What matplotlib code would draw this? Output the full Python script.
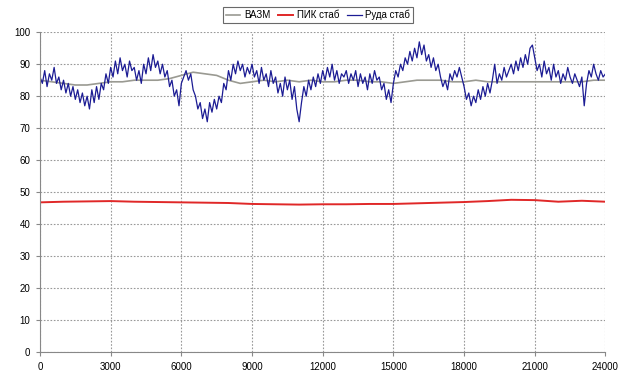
import numpy as np
import matplotlib
matplotlib.use("Agg")
import matplotlib.pyplot as plt

plt.rcParams['font.family'] = ['Liberation Sans', 'DejaVu Sans']

# Руда стаб (blue), one value every 100 units
ruda = [
    86, 84, 88, 83, 87, 85, 89, 84, 86, 82,
    85, 81, 84, 80, 83, 79, 82, 78, 81, 77,
    80, 76, 82, 78, 83, 79, 84, 82, 87, 84,
    89, 86, 91, 87, 92, 88, 90, 86, 91, 88,
    89, 85, 88, 84, 90, 87, 92, 88, 93, 89,
    91, 87, 90, 86, 88, 83, 85, 80, 82, 77,
    84, 86, 88, 85, 87, 82, 80, 76, 78, 73,
    76, 72, 78, 75, 79, 76, 80, 78, 84, 82,
    88, 85, 90, 87, 91, 88, 90, 86, 89, 87,
    90, 86, 88, 84, 89, 85, 87, 83, 88, 84,
    86, 81, 84, 80, 86, 82, 85, 79, 83, 76,
    72, 78, 83, 80, 85, 82, 86, 83, 87, 84,
    88, 85, 89, 86, 90, 85, 88, 84, 87, 86,
    88, 84, 87, 85, 88, 83, 87, 84, 86, 82,
    87, 84, 88, 85, 86, 82, 84, 79, 82, 78,
    84, 88, 86, 90, 88, 92, 90, 94, 91, 95,
    92, 97, 93, 96, 91, 93, 89, 92, 88, 90,
    86, 83, 85, 82, 87, 85, 88, 86, 89, 86,
    83, 79, 81, 77, 80, 78, 82, 79, 83, 80,
    84, 81, 85, 90, 84, 87, 85, 89, 86, 88,
    90, 87, 91, 88, 92, 89, 93, 90, 95, 96,
    92, 88, 90, 86, 91, 87, 89, 85, 90, 86,
    88, 84, 87, 85, 89, 86, 84, 87, 85, 83,
    86, 77, 84, 88, 86, 90, 87, 85, 88, 86,
    87,
]
ruda_x = np.arange(len(ruda)) * 100

# ВАЗМ (gray), one value every 500 units
vazm = [
    85, 84.5, 84, 83.5, 83.5, 84, 84.5, 84.5, 85, 85,
    85, 85.5, 86.5, 87.5, 87, 86.5, 85, 84, 84.5, 85,
    84.5, 85, 84.5, 85, 84.5, 84.5, 85, 85, 84.5, 84.5,
    84, 84.5, 85, 85, 85, 84.5, 84.5, 85, 84.5, 84.5,
    84.5, 84.5, 84.5, 84.5, 84.5, 84.5, 84.5, 85, 85,
]
vazm_x = np.arange(len(vazm)) * 500

# ПИК стаб (red), one value every 1000 units
pik = [
    46.8, 47.0, 47.1, 47.2, 47.0, 46.9, 46.8, 46.7, 46.6, 46.3,
    46.2, 46.1, 46.2, 46.2, 46.3, 46.3, 46.5, 46.7, 46.9, 47.2,
    47.6, 47.5, 47.0, 47.3, 47.0,
]
pik_x = np.arange(len(pik)) * 1000

x_ticks = [0, 3000, 6000, 9000, 12000, 15000, 18000, 21000, 24000]
y_ticks = [0, 10, 20, 30, 40, 50, 60, 70, 80, 90, 100]

fig = plt.figure(figsize=(6.2, 3.74), dpi=100)
ax = fig.add_axes([0.0645, 0.0588, 0.912, 0.855])

l1, = ax.plot(vazm_x, vazm, color='#9a9a92', lw=1.2, label='ВАЗМ')
l2, = ax.plot(pik_x, pik, color='#e02828', lw=1.4, label='ПИК стаб')
l3, = ax.plot(ruda_x, ruda, color='#1c1c94', lw=0.9, label='Руда стаб')

ax.set_xlim(0, 24000)
ax.set_ylim(0, 100)
ax.set_xticks(x_ticks)
ax.set_xticklabels([str(t) for t in x_ticks])
ax.set_yticks(y_ticks)
ax.tick_params(labelsize=7, length=3, color='#888888', pad=4)
ax.grid(True, linestyle=(0, (1.5, 1.5)), color='#999999', lw=0.8)
for s in ['top', 'right']:
    ax.spines[s].set_visible(False)
for s in ['left', 'bottom']:
    ax.spines[s].set_color('#888888')

leg = fig.legend(handles=[l1, l2, l3], loc='center', bbox_to_anchor=(0.513, 0.96),
                 ncol=3, fontsize=7, frameon=True, fancybox=False,
                 handlelength=1.5, handletextpad=0.4, columnspacing=0.8,
                 borderpad=0.3)
leg.get_frame().set_edgecolor('#444444')
leg.get_frame().set_linewidth(0.8)

fig.savefig('out.png', dpi=100)
